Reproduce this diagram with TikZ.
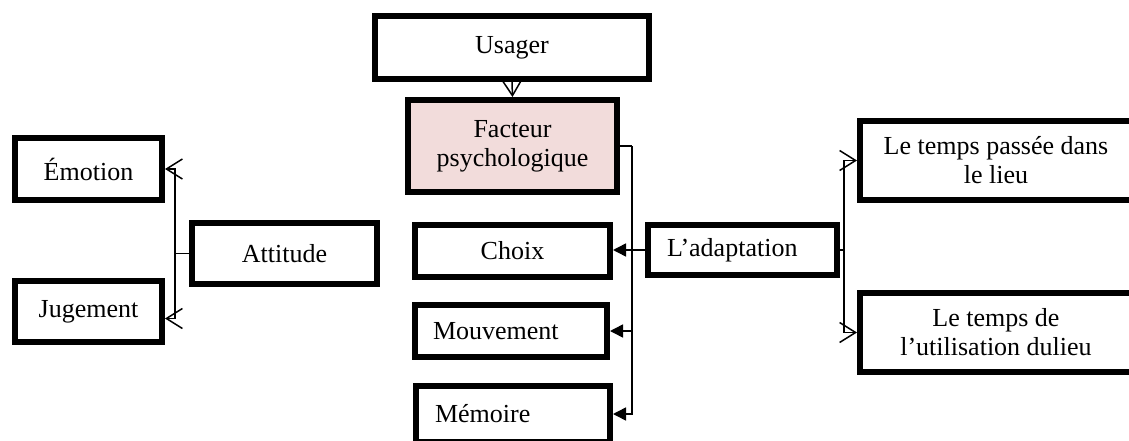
\documentclass[tikz,border=0pt]{standalone}
\usepackage{fontspec}
\setmainfont{Liberation Serif}
\usetikzlibrary{arrows.meta,calc}
\definecolor{facteurfill}{RGB}{242,220,219}
\begin{document}
\begin{tikzpicture}[x=1pt,y=-1pt,
  box/.style={draw=black,line width=6pt,fill=white,inner sep=0pt,
    font=\fontsize{26}{29}\selectfont,align=center},
  link/.style={line width=1.5pt},
  openhead/.style={link,-{Straight Barb[length=16pt,width=20pt,line width=1.5pt]}},
  solidhead/.style={link,-{Triangle[length=13pt,width=13pt]}}]
\useasboundingbox (0,0) rectangle (1129,441);
\clip (0,0) rectangle (1129,441);

% central column
\node[box,minimum width=274pt,minimum height=63pt] (usager) at (512,47.5) {Usager};
\node[box,fill=facteurfill,minimum width=209pt,minimum height=92pt] (facteur) at (512.5,146) {Facteur\\psychologique};
\node[box,minimum width=195pt,minimum height=52pt] (choix) at (512.5,251) {Choix};
\node[box,minimum width=192pt,minimum height=52pt,text width=156pt,align=left] (mouvement) at (511,331) {Mouvement};
\node[box,minimum width=194pt,minimum height=56pt,text width=156pt,align=left] (memoire) at (513,414) {Mémoire};

% left group
\node[box,minimum width=147pt,minimum height=62pt] (emotion) at (88.5,169) {Émotion};
\node[box,minimum width=147pt,minimum height=61pt] (jugement) at (88.5,311.5) {Jugement};
\node[box,minimum width=185pt,minimum height=61pt] (attitude) at (284.5,253.5) {Attitude};

% right group
\node[box,minimum width=189pt,minimum height=50pt,text width=151pt,align=left] (adaptation) at (742.5,250) {L’adaptation};
\node[box,minimum width=272pt,minimum height=79pt] (temps1) at (996,160.5) {Le temps passée dans\\le lieu};
\node[box,minimum width=272pt,minimum height=79pt] (temps2) at (996,332.5) {Le temps de\\l’utilisation dulieu};

% connectors
\draw[openhead] (usager.south) -- (facteur.north);

\draw[link] (facteur.east) -- ++(12,0) coordinate (bus);
\draw[solidhead] (bus) |- (memoire.east);
\draw[solidhead] (bus |- mouvement.east) -- (mouvement.east);

\draw[solidhead] (adaptation.west) -- (adaptation.west -| choix.east);

\draw[link] (adaptation.east) -- ++(4,0) coordinate (rbus);
\draw[openhead] (rbus) |- (temps1.west);
\draw[openhead] (rbus) |- (temps2.west);

\draw[link] (attitude.west) -- ++(-14,0) coordinate (lbus);
\draw[openhead] (lbus) |- (emotion.east);
\draw[openhead] (lbus) |- ($(jugement.east)+(0,7)$);
\end{tikzpicture}
\end{document}
